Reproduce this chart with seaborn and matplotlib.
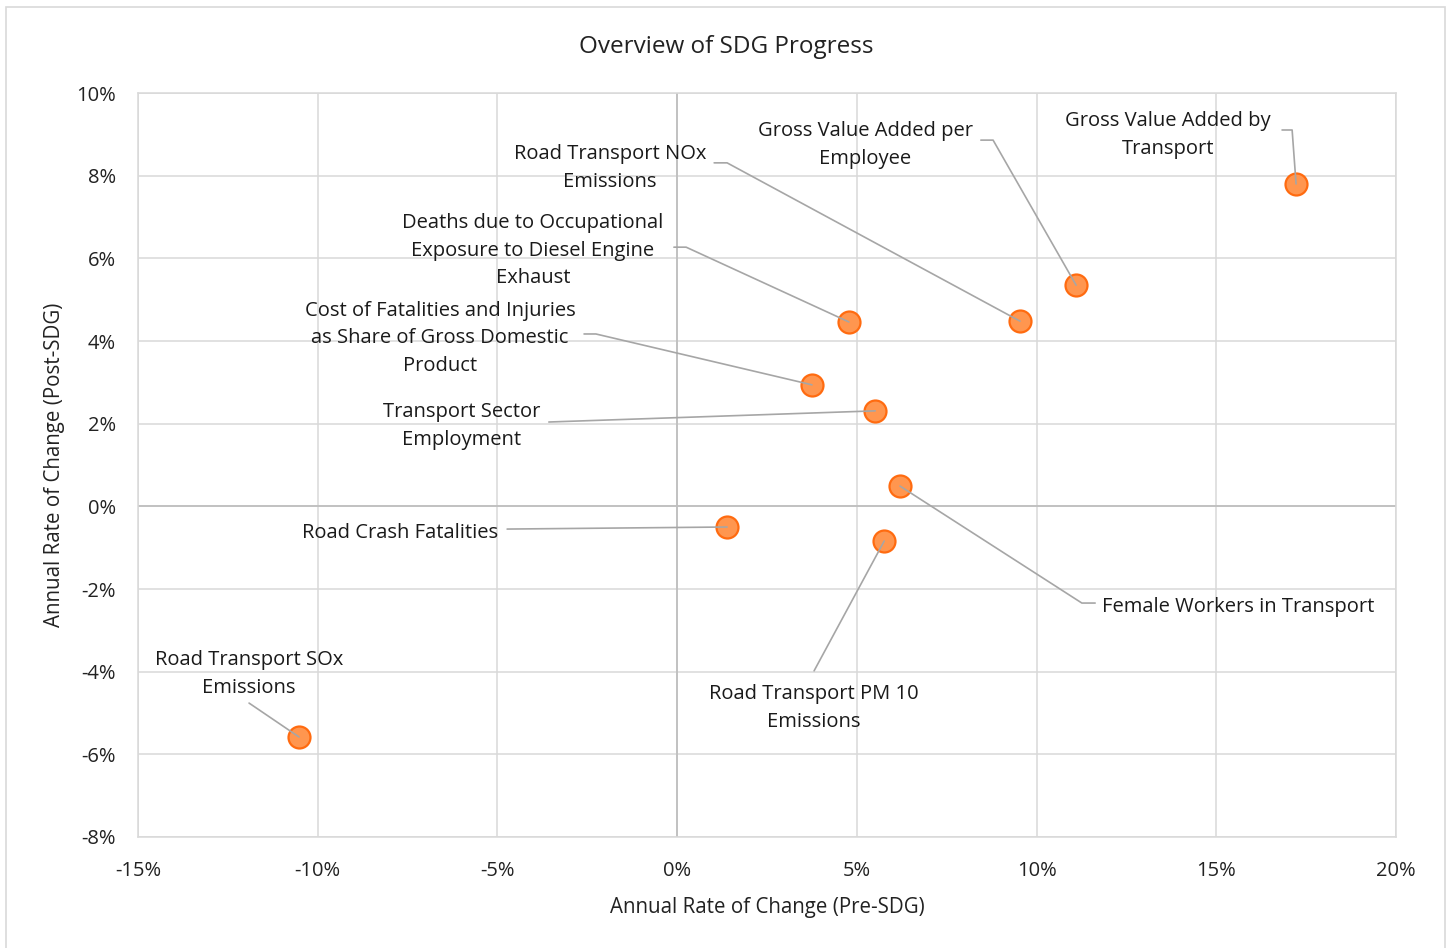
import pandas as pd
import seaborn as sns
import matplotlib.pyplot as plt
from matplotlib.patches import Rectangle
from matplotlib.ticker import FuncFormatter, MultipleLocator

# indicator values (annual rate of change, %)
indicators = [
    'Gross Value Added by\nTransport',
    'Gross Value Added per\nEmployee',
    'Road Transport NOx\nEmissions',
    'Deaths due to Occupational\nExposure to Diesel Engine\nExhaust',
    'Cost of Fatalities and Injuries\nas Share of Gross Domestic\nProduct',
    'Transport Sector\nEmployment',
    'Road Crash Fatalities',
    'Female Workers in Transport',
    'Road Transport PM 10\nEmissions',
    'Road Transport SOx\nEmissions',
]
pre_sdg = [17.22, 11.10, 9.54, 4.78, 3.75, 5.51, 1.39, 6.20, 5.76, -10.52]
post_sdg = [7.80, 5.35, 4.48, 4.46, 2.94, 2.31, -0.50, 0.49, -0.84, -5.58]

# label placement (text centre, leader start, optional elbow) in data units
label_xy = [(13.66, 8.98), (5.23, 8.74), (-1.87, 8.18), (-4.01, 6.18),
            (-6.60, 4.07), (-5.99, 1.94), (-7.71, -0.65), (15.60, -2.44),
            (3.81, -4.88), (-11.91, -4.06)]
leader_start = [(16.83, 9.105), (8.45, 8.86), (1.03, 8.31), (-0.09, 6.27),
                (-2.59, 4.17), (-3.57, 2.04), (-4.73, -0.55), (11.63, -2.34),
                (3.81, -3.98), (-11.91, -4.76)]
leader_elbow = [(17.11, 9.105), (8.79, 8.86), (1.39, 8.31), (0.25, 6.27),
                (-2.26, 4.17), None, None, (11.26, -2.34), None, None]

df = pd.DataFrame({'indicator': indicators, 'pre': pre_sdg, 'post': post_sdg})

sns.set_theme(style='white')
plt.rcParams['font.family'] = ['Open Sans', 'DejaVu Sans']

fig = plt.figure(figsize=(14.49, 9.48), dpi=100)
ax = fig.add_axes([138 / 1449, 1 - 837 / 948, (1396 - 138) / 1449, (837 - 93) / 948])

grid_c = '#D9D9D9'
ax.set_xlim(-15, 20)
ax.set_ylim(-8, 10)
ax.xaxis.set_major_locator(MultipleLocator(5))
ax.yaxis.set_major_locator(MultipleLocator(2))
ax.grid(True, color=grid_c, linewidth=1.1, zorder=0)
ax.axhline(0, color='#BFBFBF', linewidth=1.3, zorder=1)
ax.axvline(0, color='#BFBFBF', linewidth=1.3, zorder=1)
for s in ax.spines.values():
    s.set_color(grid_c)
    s.set_linewidth(1.1)

pct = FuncFormatter(lambda v, p: f'{v:.0f}%')
ax.xaxis.set_major_formatter(pct)
ax.yaxis.set_major_formatter(pct)
ax.tick_params(axis='x', length=0, pad=17, labelsize=14.5, colors='#222222')
ax.tick_params(axis='y', length=0, pad=16, labelsize=14.5, colors='#222222')

sns.scatterplot(data=df, x='pre', y='post', ax=ax, s=250, color='#FF964F',
                edgecolor='#FF6B10', linewidth=1.6, zorder=3, legend=False)

# leader lines and labels
for i, row in df.iterrows():
    xs = [leader_start[i][0]]
    ys = [leader_start[i][1]]
    if leader_elbow[i] is not None:
        xs.append(leader_elbow[i][0])
        ys.append(leader_elbow[i][1])
    xs.append(row['pre'])
    ys.append(row['post'])
    ax.plot(xs, ys, color='#A6A6A6', linewidth=1.2, zorder=4)
    ax.text(label_xy[i][0], label_xy[i][1], row['indicator'], ha='center',
            va='center', fontsize=14.5, color='#1a1a1a', linespacing=1.5, zorder=5)

ax.set_xlabel('Annual Rate of Change (Pre-SDG)', fontsize=14.8, color='#222222')
ax.set_ylabel('Annual Rate of Change (Post-SDG)', fontsize=14.8, color='#222222')
ax.xaxis.set_label_coords(0.5, -(907 - 837) / 744)
ax.yaxis.set_label_coords(-(138 - 55) / 1258, 0.5)
ax.xaxis.label.set_va('center')
ax.yaxis.label.set_va('center')

fig.text(726 / 1449, 1 - 47 / 948, 'Overview of SDG Progress', ha='center',
         va='center', fontsize=17.5, color='#222222')

fig.patches.append(Rectangle((6 / 1449, -0.01), (1445 - 6) / 1449, 1.01 - 7 / 948,
                             transform=fig.transFigure, fill=False,
                             edgecolor='#D9D9D9', linewidth=1.2))

fig.savefig('out.png', dpi=100, facecolor='white')
